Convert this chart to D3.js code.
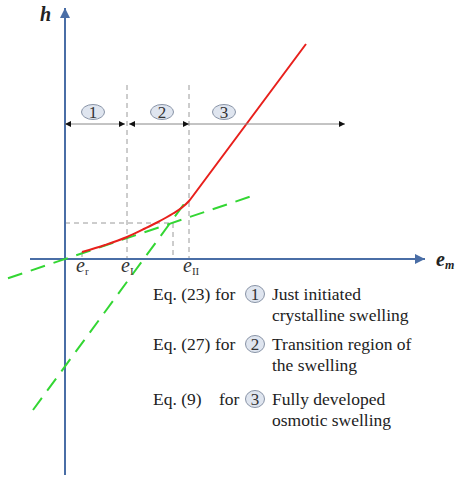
<!DOCTYPE html>
<html><head><meta charset="utf-8">
<script src="https://cdn.jsdelivr.net/npm/d3@7"></script>
</head><body style="margin:0">
<script>
// ---- data (abstract units: e along x, h along y) ----
const axisExtentE = [-7, 72];
const axisExtentH = [-43.2, 50.2];
const eMarks = [{name:"r", e:3.4}, {name:"I", e:12.4}, {name:"II", e:24.8}];
const eCross = 21.6, hCross = 7.2;
const redCurve = [[3.4,1.4],[8,2.8],[12.4,4.4],[16,6.1],[18.4,7.3],[21.6,9.1],[23.4,10.3],[24.8,11.6],[25.8,12.9]];
const redLine = [[25.8,12.9],[48.2,43.0]];
const greenLine1 = [[-11.4,-3.85],[37.4,12.6]];
const greenLine2 = [[-6.4,-30.2],[24.4,11.8]];
const regionArrowH = 27, regionArrowE = [0, 56];
const regionLabels = [{n:"1", e:5.6},{n:"2", e:19.4},{n:"3", e:31.8}];
const dividerTop = 34.8;
const legendEq = ["Eq. (23)", "Eq. (27)", "Eq. (9)"];
const legendNum = ["1","2","3"];
const legendText = [["Just initiated","crystalline swelling"],["Transition region of","the swelling"],["Fully developed","osmotic swelling"]];

const W=458,H=479;
const svg=d3.select("body").append("svg").attr("width",W).attr("height",H).style("display","block");
const x=d3.scaleLinear().domain([0,72]).range([65,425]);
const y=d3.scaleLinear().domain([0,43]).range([259,44]);
const axisCol="#4a6ea6";
const FONT='"Times New Roman"';
function txt(parent){ return parent.append("text").style("font-family",FONT); }

const defs=svg.append("defs");
function marker(id,col,w,h){
  defs.append("marker").attr("id",id).attr("viewBox","0 0 10 10").attr("refX",10).attr("refY",5)
   .attr("markerWidth",w).attr("markerHeight",h).attr("orient","auto-start-reverse").attr("markerUnits","userSpaceOnUse")
   .append("path").attr("d","M0,0L10,5L0,10z").attr("fill",col);
}
marker("axArr",axisCol,12,10);
marker("blk","#111",7,6);

// gray dashed guides
const g=svg.append("g").attr("stroke","#9a9a9a").attr("stroke-width",1).attr("stroke-dasharray","5,4").attr("fill","none");
eMarks.forEach((m,i)=>{
  const top = i===0 ? redCurve[0][1] : dividerTop;
  g.append("line").attr("x1",x(m.e)).attr("x2",x(m.e)).attr("y1",y(top)).attr("y2",y(0));
});
g.append("line").attr("x1",x(0)).attr("x2",x(eCross)).attr("y1",y(hCross)).attr("y2",y(hCross));
g.append("line").attr("x1",x(eCross)).attr("x2",x(eCross)).attr("y1",y(hCross)).attr("y2",y(0));

// axes
svg.append("line").attr("x1",x(axisExtentE[0])).attr("x2",x(axisExtentE[1])).attr("y1",y(0)).attr("y2",y(0))
  .attr("stroke",axisCol).attr("stroke-width",2).attr("marker-end","url(#axArr)");
svg.append("line").attr("x1",x(0)).attr("x2",x(0)).attr("y1",y(axisExtentH[0])).attr("y2",y(axisExtentH[1]))
  .attr("stroke",axisCol).attr("stroke-width",2).attr("marker-end","url(#axArr)");

// green dashed tangents
const line=d3.line().x(d=>x(d[0])).y(d=>y(d[1]));
[greenLine1,greenLine2].forEach(L=>svg.append("path").attr("d",line(L)).attr("fill","none")
  .attr("stroke","#33d633").attr("stroke-width",2).attr("stroke-dasharray","15,9"));

// red curve
const curve=d3.line().x(d=>x(d[0])).y(d=>y(d[1])).curve(d3.curveMonotoneX);
svg.append("path").attr("d",curve(redCurve)+line(redLine).replace(/^M[^L]*/,"")).attr("fill","none")
  .attr("stroke","#e8201c").attr("stroke-width",2).attr("stroke-linejoin","round");

// region arrows
const ra=svg.append("g");
const bounds=[regionArrowE[0], eMarks[1].e, eMarks[2].e, regionArrowE[1]];
ra.append("line").attr("x1",x(bounds[0])).attr("x2",x(bounds[1])-2).attr("y1",y(regionArrowH)).attr("y2",y(regionArrowH))
  .attr("stroke","#888").attr("stroke-width",1).attr("marker-start","url(#blk)").attr("marker-end","url(#blk)");
ra.append("line").attr("x1",x(bounds[1])+2).attr("x2",x(bounds[2])).attr("y1",y(regionArrowH)).attr("y2",y(regionArrowH))
  .attr("stroke","#888").attr("stroke-width",1).attr("marker-start","url(#blk)").attr("marker-end","url(#blk)");
ra.append("line").attr("x1",x(bounds[2])).attr("x2",x(bounds[3])).attr("y1",y(regionArrowH)).attr("y2",y(regionArrowH))
  .attr("stroke","#888").attr("stroke-width",1).attr("marker-end","url(#blk)");

function circled(parent,cx,cy,n,rx,ry,fs){
  parent.append("ellipse").attr("cx",cx).attr("cy",cy).attr("rx",rx).attr("ry",ry)
    .attr("fill","#dfe5ef").attr("stroke","#8893a6").attr("stroke-width",1);
  txt(parent).attr("x",cx).attr("y",cy+fs*0.34).attr("text-anchor","middle")
    .attr("font-size",fs).attr("fill","#333").text(n);
}
regionLabels.forEach(r=>circled(svg,x(r.e),y(regionArrowH)-12,r.n,11.5,7.5,17));

// axis labels
txt(svg).attr("x",40).attr("y",21).attr("font-style","italic")
  .attr("font-weight","bold").attr("font-size",20).attr("fill","#222").text("h");
const em=txt(svg).attr("x",436).attr("y",266).attr("font-style","italic")
  .attr("font-weight","bold").attr("font-size",20).attr("fill","#222");
em.append("tspan").text("e");
em.append("tspan").attr("font-size",12).attr("dy",3).text("m");

eMarks.forEach(m=>{
  const t=txt(svg).attr("x",x(m.e)-6).attr("y",272)
    .attr("font-size",20).attr("fill","#333");
  t.append("tspan").attr("font-style","italic").text("e");
  t.append("tspan").attr("font-size",11).attr("dy",3).text(m.name);
});

// legend
const rowsY=[300,350,405];
legendEq.forEach((eq,i)=>{
  const gy=rowsY[i];
  const tg=svg.append("g").attr("font-size",17.5).attr("fill","#222");
  txt(tg).attr("x",153).attr("y",gy).text(eq);
  txt(tg).attr("x",i===2?219:215).attr("y",gy).text("for");
  circled(svg,255,gy-6,legendNum[i],9.5,8.5,17);
  txt(tg).attr("x",272).attr("y",gy).text(legendText[i][0]);
  txt(tg).attr("x",272).attr("y",gy+21).text(legendText[i][1]);
});
</script>
</body></html>
